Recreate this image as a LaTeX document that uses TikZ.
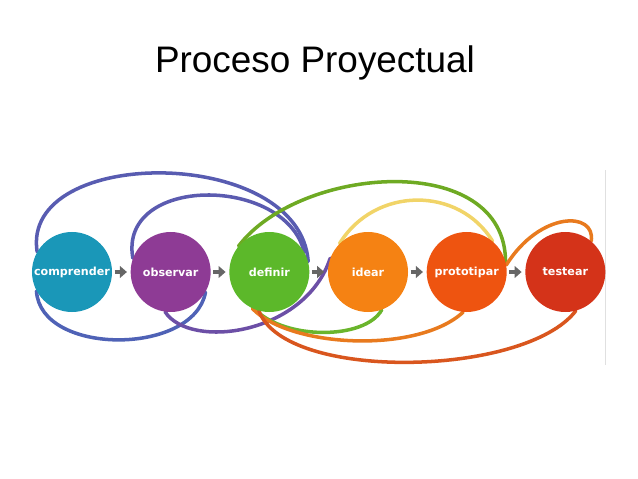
\documentclass[tikz,border=0pt]{standalone}
\usepackage{fontspec}
\setmainfont{Liberation Sans}
\newfontfamily\circfont{DejaVu Sans}
\usetikzlibrary{arrows.meta,backgrounds}

\definecolor{cteal}{HTML}{1A97B8}
\definecolor{cpurple}{HTML}{8E3B95}
\definecolor{cgreen}{HTML}{5CB82A}
\definecolor{corange}{HTML}{F58213}
\definecolor{cdkorange}{HTML}{EE5410}
\definecolor{cred}{HTML}{D43319}
\definecolor{lblue}{HTML}{4F62B6}
\definecolor{lpurple}{HTML}{6C4FA6}
\definecolor{lgreen}{HTML}{6AB52C}
\definecolor{lyellow}{HTML}{F1D468}
\definecolor{lorange}{HTML}{E87A1E}
\definecolor{lred}{HTML}{D9561E}

\begin{document}
\begin{tikzpicture}[x=0.03cm,y=-0.03cm,node distance=2.96cm,
    phase/.style={circle,minimum size=2.4cm,inner sep=0pt,text=white,font=\circfont\bfseries\fontsize{9.5}{11}\selectfont},
    loop/.style={line width=3pt,line cap=round},
    stepline/.style={draw=black!60,line width=4pt,shorten <=2pt,shorten >=3pt,-{Triangle[length=6pt,width=10pt]}}]

    \useasboundingbox (0,0) rectangle (638,479);

    \node (title) at (315,63) {\fontsize{31.5}{36}\selectfont Proceso Proyectual};

    \node[phase, fill=cteal] (comprender) at (72,272) {comprender};
    \node[phase, fill=cpurple] (observar) [right of = comprender] {observar};
    \node[phase, fill=cgreen] (definir) [right of = observar] {definir};
    \node[phase, fill=corange] (idear) [right of = definir] {idear};
    \node[phase, fill=cdkorange] (prototipar) [right of = idear] {prototipar};
    \node[phase, fill=cred] (testear) [right of = prototipar] {testear};

    \draw[stepline] (comprender) -- (observar);
    \draw[stepline] (observar) -- (definir);
    \draw[stepline] (definir) -- (idear);
    \draw[stepline] (idear) -- (prototipar);
    \draw[stepline] (prototipar) -- (testear);

    \begin{scope}[on background layer]
        % arcs above
        \draw[loop, lblue!70!lpurple] (comprender.150) .. controls (20,145) and (300,145) .. (definir.15);
        \draw[loop, lblue!60!lpurple] (observar.160) .. controls (118,175) and (285,175) .. (definir.30);
        \draw[loop, lgreen!80!olive] (definir.140) .. controls (300,165) and (505,150) .. (prototipar.15);
        \draw[loop, lyellow] (idear.135) .. controls (375,186) and (459,186) .. (prototipar.50);
        \draw[loop, lorange] (prototipar.10) .. controls (540,211) and (596,211) .. (testear.50);

        % arcs below
        \draw[loop, lblue] (comprender.208) .. controls (40,356) and (194,356) .. (observar.330);
        \draw[loop, lpurple] (observar.262) .. controls (190,350) and (305,335) .. (idear.160);
        \draw[loop, lgreen] (definir.250) .. controls (285,340) and (365,340) .. (idear.290);
        \draw[loop, lorange] (definir.245) .. controls (290,348) and (418,354) .. (prototipar.265);
        \draw[loop, lred] (definir.255) .. controls (285,382) and (525,377) .. (testear.285);

        \draw[black!12, line width=0.6pt] (605,170) -- (605,365);
    \end{scope}
\end{tikzpicture}
\end{document}
